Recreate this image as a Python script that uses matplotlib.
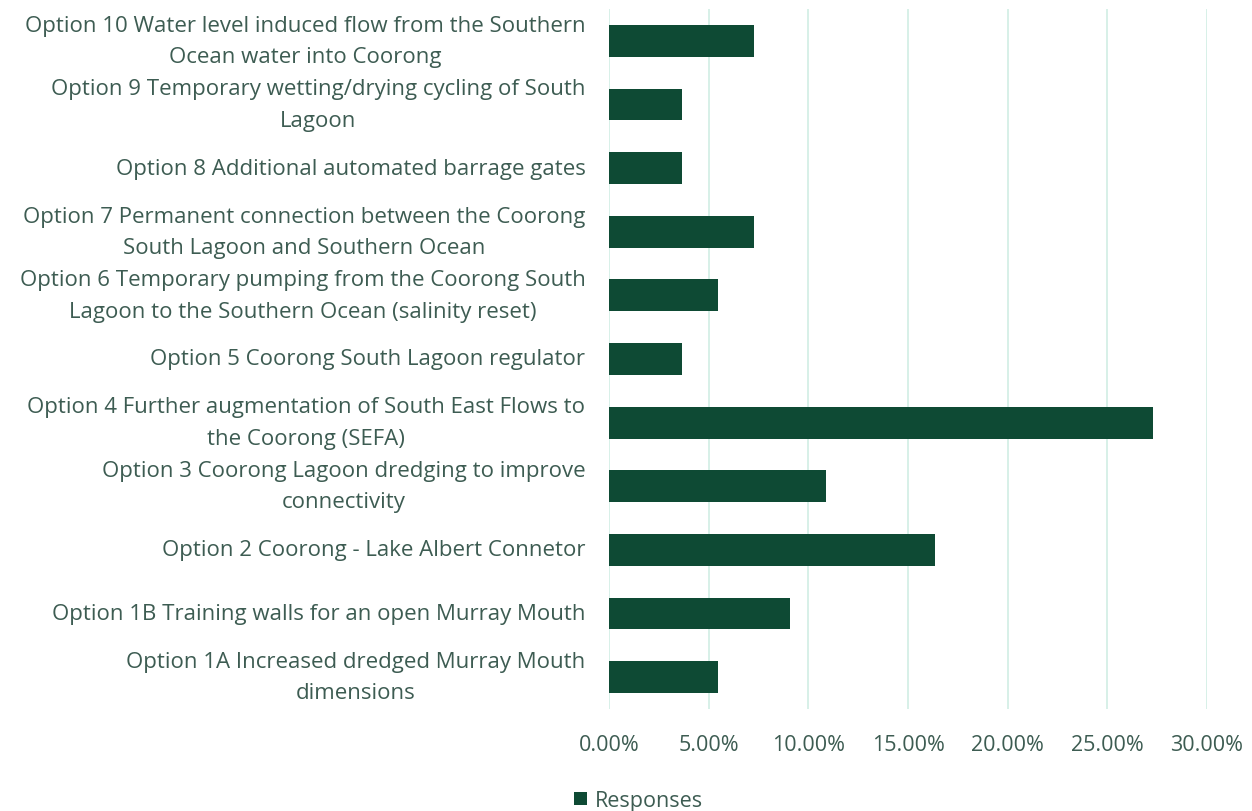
import matplotlib
matplotlib.use("Agg")
import matplotlib.pyplot as plt
from matplotlib.ticker import FuncFormatter, MultipleLocator

categories = [
    "Option 10 Water level induced flow from the Southern\nOcean water into Coorong",
    "Option 9 Temporary wetting/drying cycling of South\nLagoon",
    "Option 8 Additional automated barrage gates",
    "Option 7 Permanent connection between the Coorong\nSouth Lagoon and Southern Ocean",
    "Option 6 Temporary pumping from the Coorong South\nLagoon to the Southern Ocean (salinity reset)",
    "Option 5 Coorong South Lagoon regulator",
    "Option 4 Further augmentation of South East Flows to\nthe Coorong (SEFA)",
    "Option 3 Coorong Lagoon dredging to improve\nconnectivity",
    "Option 2 Coorong - Lake Albert Connetor",
    "Option 1B Training walls for an open Murray Mouth",
    "Option 1A Increased dredged Murray Mouth\ndimensions",
]
responses = [0.0727, 0.0364, 0.0364, 0.0727, 0.0545, 0.0364, 0.2727, 0.1091, 0.1636, 0.0909, 0.0545]
series_name = "Responses"

text_color = "#3d5c52"
bar_color = "#0e4a34"
grid_color = "#d4efe6"

plt.rcParams['font.family'] = ['Open Sans', 'DejaVu Sans']

fig = plt.figure(figsize=(12.52, 8.12), dpi=100)
ax = fig.add_axes([609/1252, 1 - 710/812, (1207-609)/1252, 700/812])

ypos = list(range(len(categories)))[::-1]
bars = ax.barh(ypos, responses, height=0.5, color=bar_color, label=series_name, zorder=3)

ax.set_xlim(0, 0.30)
ax.set_ylim(-0.5, len(categories) - 0.5)
ax.xaxis.set_major_locator(MultipleLocator(0.05))
ax.xaxis.set_major_formatter(FuncFormatter(lambda v, p: f"{v*100:.2f}%"))
ax.set_yticks(ypos)
ax.set_yticklabels(categories)
for lab in ax.get_yticklabels():
    lab.set_multialignment('center')
    lab.set_verticalalignment('center')
    lab.set_color(text_color)
    lab.set_fontsize(16)
    lab.set_linespacing(1.65)
for lab in ax.get_xticklabels():
    lab.set_color(text_color)
    lab.set_fontsize(15.5)

ax.tick_params(axis='y', length=0, pad=17)
ax.tick_params(axis='x', length=0, pad=18)
for s in ax.spines.values():
    s.set_visible(False)
ax.grid(axis='x', color=grid_color, linewidth=1.3, zorder=0)
ax.set_axisbelow(True)

fig.legend(handles=[bars], labels=[series_name], loc='lower center',
           bbox_to_anchor=(0.51, -0.024), frameon=False, fontsize=15.5,
           handlelength=0.6, handleheight=0.6, handletextpad=0.4,
           labelcolor=text_color)

fig.savefig("out.png", dpi=100, facecolor="white")
